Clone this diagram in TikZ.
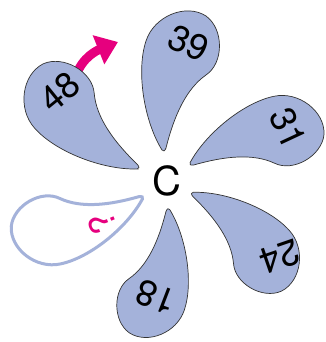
\documentclass[tikz,border=0pt]{standalone}
\usepackage{fontspec}
\setmainfont{TeX Gyre Heros}
\usetikzlibrary{arrows.meta}
\definecolor{petalblue}{RGB}{164,178,218}
\definecolor{hotpink}{RGB}{230,0,126}
% one petal, tip towards the centre, pointing up
\newcommand{\petalpath}{(-4,31) .. controls (-22,60) and (-30,110) .. (-20,140)
  .. controls (-12,165) and (20,178) .. (40,165)
  .. controls (58,152) and (58,118) .. (40,106)
  .. controls (20,92) and (8,65) .. (0,33)
  .. controls (-1,30) and (-3,29) .. cycle}
\begin{document}
\begin{tikzpicture}[x=1pt,y=1pt,
  petal/.style={draw=black!80,line width=0.7pt,fill=petalblue},
  emptypetal/.style={draw=petalblue,line width=3pt,fill=white},
  num/.style={font=\fontsize{36}{36}\selectfont,inner sep=0pt}]
  \useasboundingbox (-166,-161) rectangle (159,181);
  % turning arrow
  \coordinate (a0) at (-90,105);
  \coordinate (a1) at (-48,139);
  \draw[hotpink,line width=9pt,-{Triangle[length=21pt,width=30pt]}]
    (a0) .. controls (-84,124) and (-68,131) .. (a1);
  % petals
  \foreach \ang/\sc in {0/1,-60/0.97,-120/0.94,180/0.92,60/1}
    \draw[petal,rotate=\ang,scale=\sc] \petalpath;
  \draw[emptypetal,rotate=120,scale=0.95] \petalpath;
  % labels
  \node[num,rotate=-24] (n39) at (23,138) {39};
  \node[num,rotate=-65] (n31) at (122,53) {31};
  \node[num,rotate=-161] (n24) at (114,-76) {24};
  \node[num,rotate=159] (n18) at (-10,-116) {18};
  \node[num,rotate=39] (n48) at (-106,89) {48};
  \node[num,text=hotpink,rotate=113] (q) at (-64,-42) {?};
  \node[font=\fontsize{40}{40}\selectfont,inner sep=0pt] (C) at (1,0) {C};
\end{tikzpicture}
\end{document}
